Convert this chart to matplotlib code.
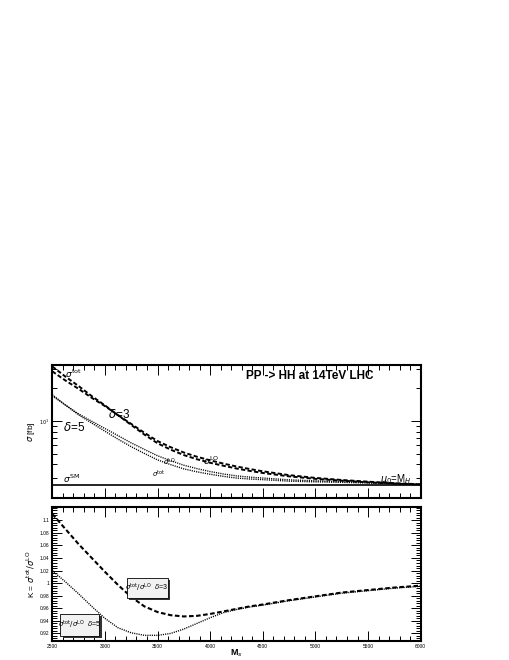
import numpy as np
import matplotlib
matplotlib.use("Agg")
import matplotlib.pyplot as plt
from matplotlib.patches import Rectangle
from matplotlib.ticker import FixedLocator, NullFormatter, MultipleLocator

plt.rcParams['font.family'] = ['Liberation Sans', 'DejaVu Sans']
plt.rcParams['mathtext.fontset'] = 'dejavusans'

# data
ms = [2500, 2625, 2750, 2875, 3000, 3125, 3250, 3375, 3500, 3625, 3750, 3875,
      4000, 4125, 4250, 4375, 4500, 4750, 5000, 5250, 5500, 5750, 6000]
tot_d3 = [31.6, 25.5, 20.9, 16.9, 13.9, 11.3, 9.20, 7.51, 6.25, 5.46, 4.87, 4.46,
          4.14, 3.89, 3.67, 3.49, 3.34, 3.11, 2.95, 2.84, 2.74, 2.67, 2.61]
lo_d3 = [28.5, 23.5, 19.7, 16.3, 13.7, 11.3, 9.40, 7.80, 6.55, 5.75, 5.14, 4.70,
         4.36, 4.07, 3.83, 3.63, 3.46, 3.19, 3.01, 2.88, 2.78, 2.69, 2.63]
tot_d5 = [17.4, 14.0, 11.4, 9.57, 8.06, 6.81, 5.81, 5.04, 4.40, 3.98, 3.64, 3.42,
          3.25, 3.11, 3.00, 2.94, 2.90, 2.81, 2.77, 2.74, 2.70, 2.66, 2.61]
lo_d5 = [17.0, 14.0, 11.6, 9.94, 8.54, 7.34, 6.30, 5.49, 4.80, 4.33, 3.93, 3.66,
         3.44, 3.27, 3.14, 3.06, 3.00, 2.89, 2.83, 2.78, 2.74, 2.68, 2.63]
sigma_sm = 2.6
k_d3 = [1.110, 1.086, 1.062, 1.040, 1.018, 0.997, 0.978, 0.963, 0.954, 0.949, 0.947, 0.948,
        0.951, 0.955, 0.959, 0.963, 0.966, 0.973, 0.979, 0.985, 0.989, 0.993, 0.996]
k_d5 = [1.020, 1.002, 0.983, 0.963, 0.944, 0.929, 0.921, 0.917, 0.917, 0.920, 0.927, 0.936,
        0.945, 0.953, 0.958, 0.962, 0.965, 0.972, 0.978, 0.984, 0.988, 0.992, 0.995]

fig = plt.figure(figsize=(5.1, 6.6), dpi=100)
ax1 = fig.add_axes([0.1025, 0.2462, 0.7224, 0.2008])
ax2 = fig.add_axes([0.1025, 0.0288, 0.7224, 0.2030])

dash = (0, (2.2, 1.2))
dot = (0, (0.8, 0.8))

# upper panel: cross sections
ax1.plot(ms, tot_d3, color='black', lw=1.4, linestyle=dash)
ax1.plot(ms, lo_d3, color='black', lw=1.4, linestyle=dash)
ax1.plot(ms, tot_d5, color='black', lw=1.0, linestyle=dot)
ax1.plot(ms, lo_d5, color='black', lw=1.0, linestyle=dot)
ax1.axhline(sigma_sm, color='black', lw=1.2)

ax1.set_yscale('log')
ax1.set_xlim(2500, 6000)
ax1.set_ylim(1.99, 32.6)
ax1.yaxis.set_major_locator(FixedLocator([10]))
ax1.yaxis.set_minor_locator(FixedLocator([2, 3, 4, 5, 6, 7, 8, 9, 20, 30]))
ax1.yaxis.set_minor_formatter(NullFormatter())
ax1.set_yticklabels([r'$10^{1}$'], fontsize=3.5)
ax1.xaxis.set_major_locator(MultipleLocator(500))
ax1.xaxis.set_minor_locator(MultipleLocator(100))
ax1.set_xticklabels([])
ax1.set_ylabel(r'$\sigma$ [fb]', fontsize=6)
ax1.yaxis.set_label_coords(-0.042, 0.5)

ax1.text(0.7, 0.92, 'PP -> HH at 14TeV LHC', transform=ax1.transAxes, ha='center', va='center',
         fontsize=8.5, fontweight='bold')
ax1.text(0.035, 0.93, r'$\sigma^{\rm tot}$', transform=ax1.transAxes, fontsize=6.5, va='center')
ax1.text(0.15, 0.63, r'$\delta$=3', transform=ax1.transAxes, fontsize=8.5, va='center')
ax1.text(0.03, 0.53, r'$\delta$=5', transform=ax1.transAxes, fontsize=8.5, va='center')
ax1.text(0.41, 0.28, r'$\sigma^{\rm LO}$', transform=ax1.transAxes, fontsize=6.5, va='center')
ax1.text(0.30, 0.265, r'$\sigma^{\rm LO}$', transform=ax1.transAxes, fontsize=5, va='center')
ax1.text(0.27, 0.175, r'$\sigma^{\rm tot}$', transform=ax1.transAxes, fontsize=5, va='center')
ax1.text(0.03, 0.14, r'$\sigma^{\rm SM}$', transform=ax1.transAxes, fontsize=6.5, va='center')
ax1.text(0.89, 0.14, r'$\mu_0$=M$_H$', transform=ax1.transAxes, fontsize=7, va='center')

# lower panel: K factor
ax2.plot(ms, k_d3, color='black', lw=1.5, linestyle=dash)
ax2.plot(ms, k_d5, color='black', lw=1.0, linestyle=dot)
ax2.set_xlim(2500, 6000)
ax2.set_ylim(0.908, 1.121)
ax2.yaxis.set_minor_locator(MultipleLocator(0.004))
ax2.xaxis.set_minor_locator(MultipleLocator(100))
ax2.set_yticks([0.92, 0.94, 0.96, 0.98, 1.0, 1.02, 1.04, 1.06, 1.08, 1.1])
ax2.set_yticklabels(['0.92', '0.94', '0.96', '0.98', '1', '1.02', '1.04', '1.06', '1.08', '1.1'], fontsize=3.5)
ax2.set_xticks([2500, 3000, 3500, 4000, 4500, 5000, 5500, 6000])
ax2.set_xticklabels(['2500', '3000', '3500', '4000', '4500', '5000', '5500', '6000'], fontsize=3.5)
ax2.set_ylabel(r'K = $\sigma^{\rm tot}/\sigma^{\rm LO}$', fontsize=6)
ax2.yaxis.set_label_coords(-0.042, 0.5)
ax2.set_xlabel(r'M$_s$', fontsize=6.5, fontweight='bold')
ax2.xaxis.set_label_coords(0.5, -0.045)

# boxed legends with shadow
for (bx, by, bw, bh, txt) in [(0.202, 0.32, 0.111, 0.15, r'$\sigma^{\rm tot}/\sigma^{\rm LO}$  $\delta$=3'),
                              (0.021, 0.037, 0.107, 0.167, r'$\sigma^{\rm tot}/\sigma^{\rm LO}$  $\delta$=5')]:
    ax2.add_patch(Rectangle((bx + 0.007, by - 0.016), bw, bh, transform=ax2.transAxes,
                            facecolor='#333333', edgecolor='none', zorder=4))
    ax2.add_patch(Rectangle((bx, by), bw, bh, transform=ax2.transAxes,
                            facecolor='#f2f2f2', edgecolor='black', lw=0.6, zorder=5))
    ax2.text(bx + bw / 2, by + bh / 2, txt, transform=ax2.transAxes, ha='center', va='center',
             fontsize=5, zorder=6)

for ax in (ax1, ax2):
    ax.tick_params(which='both', direction='in', top=True, right=True, width=0.7, pad=2)
    ax.tick_params(which='major', length=7)
    ax.tick_params(which='minor', length=3.5)
    for s in ax.spines.values():
        s.set_linewidth(1.5)

fig.savefig('out.png', dpi=100)
